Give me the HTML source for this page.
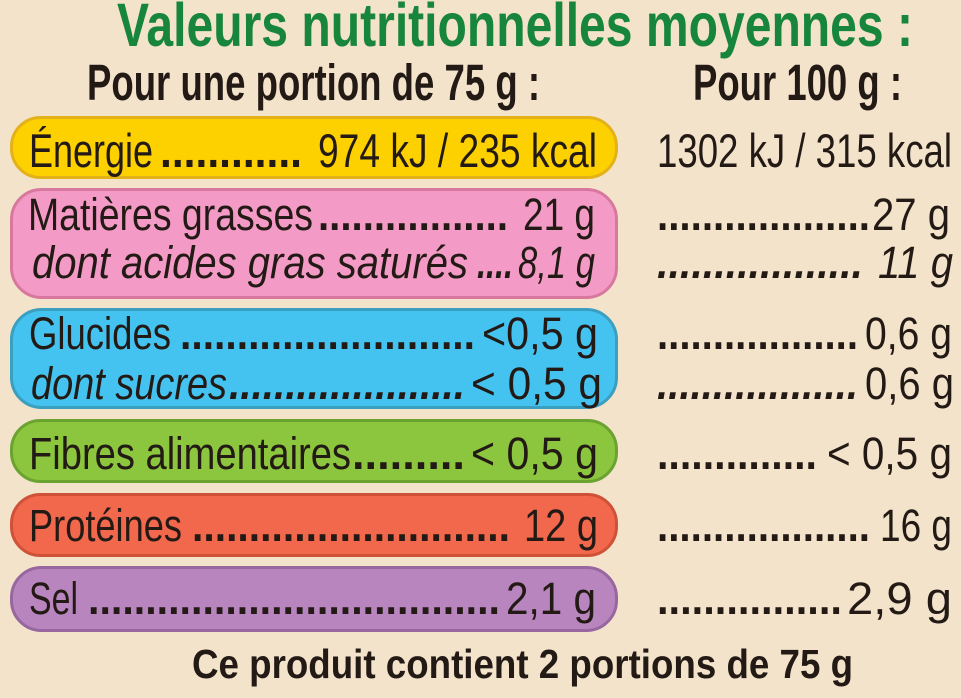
<!DOCTYPE html>
<html>
<head>
<meta charset="utf-8">
<style>
html,body{margin:0;padding:0;background:#f3e3cb;}
svg{display:block;}
text{font-family:"Liberation Sans Narrow","Liberation Sans",sans-serif;fill:#231a15;}
.t{font-size:45px;}
.e{font-size:47px;}
.i{font-style:italic;}
.h{font-weight:bold;}
.d{font-weight:bold;}
</style>
</head>
<body>
<svg width="961" height="698" viewBox="0 0 961 698" xmlns="http://www.w3.org/2000/svg">
<rect x="0" y="0" width="961" height="698" fill="#f3e3cb"/>

<!-- Title -->
<text class="h" x="117" y="46" font-size="61" style="fill:#17853b" textLength="796" lengthAdjust="spacingAndGlyphs">Valeurs nutritionnelles moyennes :</text>
<text class="h" x="87" y="100" font-size="51" textLength="453" lengthAdjust="spacingAndGlyphs">Pour une portion de 75 g :</text>
<text class="h" x="693" y="100" font-size="51" textLength="209" lengthAdjust="spacingAndGlyphs">Pour 100 g :</text>

<!-- Boxes -->
<rect x="11.5" y="117.5" width="605" height="60" rx="29" fill="#fdd000" stroke="#e3b21a" stroke-width="3"/>
<rect x="11.5" y="189.5" width="605" height="108" rx="30" fill="#f39bc6" stroke="#d8789f" stroke-width="3"/>
<rect x="11.5" y="309.5" width="605" height="98" rx="30" fill="#45c3f0" stroke="#3b9fc0" stroke-width="3"/>
<rect x="11.5" y="420.5" width="605" height="61" rx="29" fill="#8cc63e" stroke="#6aa330" stroke-width="3"/>
<rect x="11.5" y="494.5" width="605" height="61" rx="29" fill="#f1684c" stroke="#cf5138" stroke-width="3"/>
<rect x="11.5" y="567.5" width="605" height="63" rx="30" fill="#b885bf" stroke="#98679f" stroke-width="3"/>

<!-- Energy -->
<text class="e" x="29" y="167" textLength="124" lengthAdjust="spacingAndGlyphs">Énergie</text>
<text class="e d" x="160" y="167" textLength="142" lengthAdjust="spacingAndGlyphs">............</text>
<text class="e" x="318" y="167" textLength="279" lengthAdjust="spacingAndGlyphs">974 kJ / 235 kcal</text>
<text class="e" x="657" y="167" textLength="295" lengthAdjust="spacingAndGlyphs">1302 kJ / 315 kcal</text>

<!-- Fat -->
<text class="t" x="28" y="230" textLength="285" lengthAdjust="spacingAndGlyphs">Matières grasses</text>
<text class="t d" x="318" y="230" textLength="190" lengthAdjust="spacingAndGlyphs">.................</text>
<text class="t" x="523" y="230" textLength="72" lengthAdjust="spacingAndGlyphs">21 g</text>
<text class="t d" x="657" y="230" textLength="213" lengthAdjust="spacingAndGlyphs">...................</text>
<text class="t" x="872" y="230" textLength="78" lengthAdjust="spacingAndGlyphs">27 g</text>

<text class="t i" x="32" y="278" textLength="436" lengthAdjust="spacingAndGlyphs">dont acides gras saturés</text>
<text class="t i d" x="477" y="278" textLength="36" lengthAdjust="spacingAndGlyphs">....</text>
<text class="t i" x="518" y="278" textLength="77" lengthAdjust="spacingAndGlyphs">8,1 g</text>
<text class="t i d" x="657" y="278" textLength="206" lengthAdjust="spacingAndGlyphs">..................</text>
<text class="t i" x="878" y="278" textLength="75" lengthAdjust="spacingAndGlyphs">11 g</text>

<!-- Glucides -->
<text class="t" x="29" y="349" textLength="142" lengthAdjust="spacingAndGlyphs">Glucides</text>
<text class="t d" x="180" y="349" textLength="295" lengthAdjust="spacingAndGlyphs">..........................</text>
<text class="t" x="482" y="349" textLength="116" lengthAdjust="spacingAndGlyphs">&lt;0,5 g</text>
<text class="t d" x="657" y="349" textLength="201" lengthAdjust="spacingAndGlyphs">..................</text>
<text class="t" x="865" y="349" textLength="87" lengthAdjust="spacingAndGlyphs">0,6 g</text>

<text class="t i" x="31" y="399" textLength="196" lengthAdjust="spacingAndGlyphs">dont sucres</text>
<text class="t i d" x="229" y="399" textLength="236" lengthAdjust="spacingAndGlyphs">.....................</text>
<text class="t" x="471" y="399" textLength="131" lengthAdjust="spacingAndGlyphs">&lt; 0,5 g</text>
<text class="t i d" x="657" y="399" textLength="201" lengthAdjust="spacingAndGlyphs">..................</text>
<text class="t" x="865" y="399" textLength="89" lengthAdjust="spacingAndGlyphs">0,6 g</text>

<!-- Fibres -->
<text class="t" x="29" y="469" textLength="322" lengthAdjust="spacingAndGlyphs">Fibres alimentaires</text>
<text class="t d" x="352" y="469" textLength="113" lengthAdjust="spacingAndGlyphs">.........</text>
<text class="t" x="471" y="469" textLength="127" lengthAdjust="spacingAndGlyphs">&lt; 0,5 g</text>
<text class="t d" x="657" y="469" textLength="160" lengthAdjust="spacingAndGlyphs">..............</text>
<text class="t" x="827" y="469" textLength="125" lengthAdjust="spacingAndGlyphs">&lt; 0,5 g</text>

<!-- Protéines -->
<text class="t" x="29" y="541" textLength="153" lengthAdjust="spacingAndGlyphs">Protéines</text>
<text class="t d" x="192" y="541" textLength="318" lengthAdjust="spacingAndGlyphs">............................</text>
<text class="t" x="524" y="541" textLength="74" lengthAdjust="spacingAndGlyphs">12 g</text>
<text class="t d" x="657" y="541" textLength="213" lengthAdjust="spacingAndGlyphs">...................</text>
<text class="t" x="880" y="541" textLength="72" lengthAdjust="spacingAndGlyphs">16 g</text>

<!-- Sel -->
<text class="t" x="29" y="614" textLength="49" lengthAdjust="spacingAndGlyphs">Sel</text>
<text class="t d" x="88" y="614" textLength="412" lengthAdjust="spacingAndGlyphs">....................................</text>
<text class="t" x="506" y="614" textLength="90" lengthAdjust="spacingAndGlyphs">2,1 g</text>
<text class="t d" x="657" y="614" textLength="185" lengthAdjust="spacingAndGlyphs">................</text>
<text class="t" x="847" y="614" textLength="105" lengthAdjust="spacingAndGlyphs">2,9 g</text>

<!-- Footer -->
<text class="h" x="192" y="678" font-size="41" textLength="661" lengthAdjust="spacingAndGlyphs">Ce produit contient 2 portions de 75 g</text>
</svg>
</body>
</html>
